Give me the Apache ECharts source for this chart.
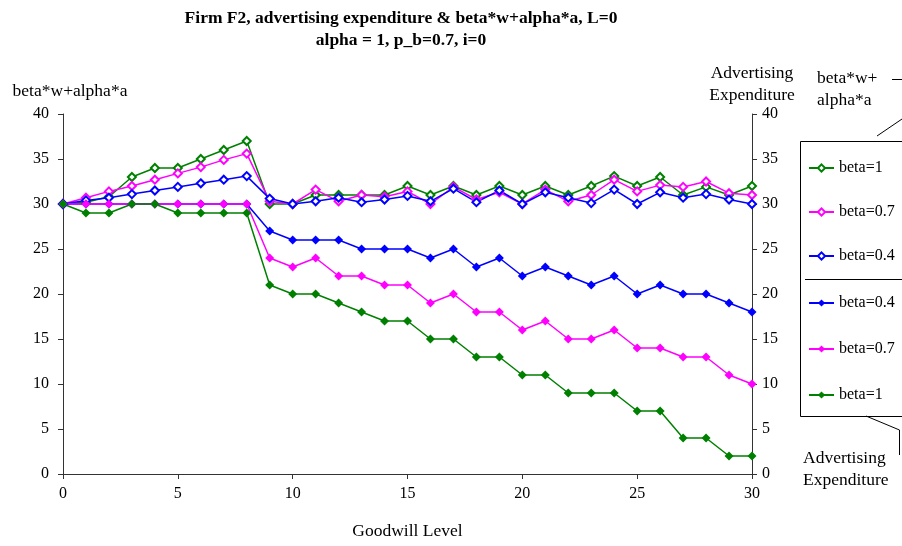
<!DOCTYPE html>
<html>
<head>
<meta charset="utf-8">
<script src="https://cdn.jsdelivr.net/npm/echarts@6/dist/echarts.min.js"></script>
<style>
html,body{margin:0;padding:0;background:#fff;}
#c{width:902px;height:546px;}
</style>
</head>
<body>
<div id="c"></div>
<script>
// Goodwill levels (x)
const goodwill = [0,1,2,3,4,5,6,7,8,9,10,11,12,13,14,15,16,17,18,19,20,21,22,23,24,25,26,27,28,29,30];
// beta*w+alpha*a (left axis, hollow markers)
const wBeta1  = [30,30.2,30.8,33,34,34,35,36,37,30,30,31,31,31,31,32,31,32,31,32,31,32,31,32,33.1,32,33,31,31.9,31,32];
const wBeta07 = [30,30.7,31.4,32,32.7,33.4,34.1,34.9,35.6,30.3,30,31.6,30.3,31,30.8,31.4,30,31.9,30.5,31.3,30,31.6,30.3,31,32.7,31.4,32.1,31.9,32.5,31.2,31];
const wBeta04 = [30,30.4,30.7,31.1,31.5,31.9,32.3,32.7,33.1,30.6,30,30.3,30.7,30.2,30.5,30.9,30.3,31.7,30.2,31.5,30,31.3,30.7,30.1,31.6,30,31.3,30.7,31.1,30.5,30];
// Advertising expenditure (right axis, filled markers)
const aBeta04 = [30,30,30,30,30,30,30,30,30,27,26,26,26,25,25,25,24,25,23,24,22,23,22,21,22,20,21,20,20,19,18];
const aBeta07 = [30,30,30,30,30,30,30,30,30,24,23,24,22,22,21,21,19,20,18,18,16,17,15,15,16,14,14,13,13,11,10];
const aBeta1  = [30,29,29,30,30,29,29,29,29,21,20,20,19,18,17,17,15,15,13,13,11,11,9,9,9,7,7,4,4,2,2];
// Tick labels / texts
const yTicks = [0,5,10,15,20,25,30,35,40];
const xTicks = [0,5,10,15,20,25,30];
const legendLabels = {w1:'beta=1', w07:'beta=0.7', w04:'beta=0.4', a04:'beta=0.4', a07:'beta=0.7', a1:'beta=1'};

const GREEN = '#008000', MAGENTA = '#ff00ff', BLUE = '#0000ff';
const FONT = '"Liberation Serif","DejaVu Serif",serif';

function pairs(ys){ return goodwill.map((x,i)=>[x, ys[i]]); }

function series(id, ys, color, hollow, yAxisIndex){
  return {
    name: id, type: 'line', yAxisIndex: yAxisIndex,
    data: pairs(ys),
    symbol: hollow ? 'emptyDiamond' : 'diamond',
    symbolSize: hollow ? 8 : 9,
    showAllSymbol: true,
    lineStyle: {color: color, width: 1.5},
    itemStyle: {color: color, borderColor: color, borderWidth: hollow ? 1.3 : 0},
    emphasis: {disabled: true},
    animation: false
  };
}

const chart = echarts.init(document.getElementById('c'));
const axisCommon = {
  type: 'value', min: 0, max: 40, interval: 5,
  axisLine: {show: true, lineStyle: {color: '#333', width: 1}},
  axisTick: {show: true, inside: false, length: 5, lineStyle: {color: '#333'}},
  splitLine: {show: false},
  axisLabel: {color: '#000', fontFamily: FONT, fontSize: 16},
  nameTextStyle: {color: '#000', fontFamily: FONT, fontSize: 17.5, lineHeight: 22}
};

chart.setOption({
  backgroundColor: '#fff',
  animation: false,
  title: {
    text: 'Firm F2, advertising expenditure & beta*w+alpha*a, L=0\nalpha = 1, p_b=0.7, i=0',
    left: 396, top: 2, textAlign: 'center',
    textStyle: {fontFamily: FONT, fontSize: 17.5, fontWeight: 'bold', color: '#000', lineHeight: 22}
  },
  grid: {left: 63, right: 150, top: 114, bottom: 72, containLabel: false, outerBoundsMode: 'none'},
  xAxis: {
    type: 'value', min: 0, max: 30, interval: 5,
    name: 'Goodwill Level', nameLocation: 'middle', nameGap: 48,
    nameTextStyle: {color: '#000', fontFamily: FONT, fontSize: 17.5},
    axisLine: {show: true, onZero: false, lineStyle: {color: '#333', width: 1}},
    axisTick: {show: true, inside: false, length: 5, lineStyle: {color: '#333'}},
    splitLine: {show: false},
    axisLabel: {color: '#000', fontFamily: FONT, fontSize: 16, margin: 12,
      formatter: v => xTicks.indexOf(v) >= 0 ? String(v) : ''}
  },
  yAxis: [
    Object.assign({}, axisCommon, {
      position: 'left', name: 'beta*w+alpha*a', nameLocation: 'end', nameGap: 12,
      nameTextStyle: Object.assign({}, axisCommon.nameTextStyle, {align: 'center', padding: [0,0,0,14]}),
      axisLabel: Object.assign({}, axisCommon.axisLabel, {margin: 14,
        formatter: v => yTicks.indexOf(v) >= 0 ? String(v) : ''})
    }),
    Object.assign({}, axisCommon, {
      position: 'right', name: 'Advertising\nExpenditure', nameLocation: 'end', nameGap: 4,
      axisLabel: Object.assign({}, axisCommon.axisLabel, {margin: 10,
        formatter: v => yTicks.indexOf(v) >= 0 ? String(v) : ''})
    })
  ],
  legend: [
    {
      data: ['w1','w07','w04'], orient: 'vertical', left: 808, top: 160,
      padding: 0, itemGap: 28, itemWidth: 25, itemHeight: 9,
      selectedMode: false, formatter: n => legendLabels[n],
      textStyle: {fontFamily: FONT, fontSize: 16, color: '#000'}
    },
    {
      data: ['a04','a07','a1'], orient: 'vertical', left: 808, top: 295,
      padding: 0, itemGap: 30, itemWidth: 25, itemHeight: 9,
      selectedMode: false, formatter: n => legendLabels[n],
      textStyle: {fontFamily: FONT, fontSize: 16, color: '#000'}
    }
  ],
  graphic: [
    {type: 'rect', shape: {x: 800.5, y: 141.5, width: 120, height: 275}, style: {fill: 'none', stroke: '#000', lineWidth: 1}, silent: true},
    {type: 'line', shape: {x1: 805, y1: 279.5, x2: 902, y2: 279.5}, style: {stroke: '#000', lineWidth: 1}, silent: true},
    {type: 'text', left: 817, top: 67, style: {text: 'beta*w+\nalpha*a', font: '17.5px ' + FONT, fill: '#000', lineHeight: 22}, silent: true},
    {type: 'line', shape: {x1: 892, y1: 79.5, x2: 902, y2: 79.5}, style: {stroke: '#000', lineWidth: 1}, silent: true},
    {type: 'line', shape: {x1: 877, y1: 136, x2: 902, y2: 119}, style: {stroke: '#000', lineWidth: 1}, silent: true},
    {type: 'text', left: 803, top: 447, style: {text: 'Advertising\nExpenditure', font: '17.5px ' + FONT, fill: '#000', lineHeight: 22}, silent: true},
    {type: 'polyline', shape: {points: [[866,416],[899.5,430],[899.5,455]]}, style: {stroke: '#000', lineWidth: 1, fill: 'none'}, silent: true}
  ],
  series: [
    series('w1', wBeta1, GREEN, true, 0),
    series('w07', wBeta07, MAGENTA, true, 0),
    series('w04', wBeta04, BLUE, true, 0),
    series('a04', aBeta04, BLUE, false, 1),
    series('a07', aBeta07, MAGENTA, false, 1),
    series('a1', aBeta1, GREEN, false, 1)
  ]
});
</script>
</body>
</html>
